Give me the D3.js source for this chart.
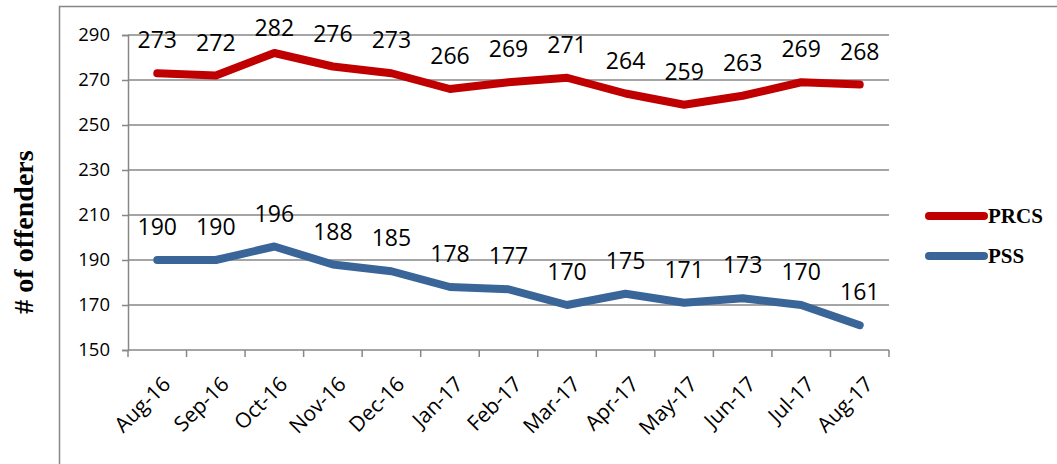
<!DOCTYPE html>
<html lang="en">
<head>
    <meta charset="UTF-8">
    <title>Offenders</title>
    <script src="https://cdn.jsdelivr.net/npm/d3@7"></script>
    <style>
        body { margin: 0; background: #fff; }
    </style>
</head>
<body>
<script>
    // months on the x axis
    const months = ["Aug-16", "Sep-16", "Oct-16", "Nov-16", "Dec-16", "Jan-17", "Feb-17",
        "Mar-17", "Apr-17", "May-17", "Jun-17", "Jul-17", "Aug-17"];
    const prcs = [273, 272, 282, 276, 273, 266, 269, 271, 264, 259, 263, 269, 268];
    const pss = [190, 190, 196, 188, 185, 178, 177, 170, 175, 171, 173, 170, 161];
    const yTicks = [150, 170, 190, 210, 230, 250, 270, 290];

    const series = [
        {name: "PRCS", values: prcs, color: "#C00000"},
        {name: "PSS", values: pss, color: "#3A6598"}
    ];

    const w = 1057, h = 464;
    const plotL = 128, plotR = 889, plotT = 35, plotB = 350;
    const gray = "#878787";

    const svg = d3.select("body").append("svg")
        .attr("width", w)
        .attr("height", h);

    // chart border (runs off the right/bottom edge)
    svg.append("rect")
        .attr("x", 59.5).attr("y", 6.5)
        .attr("width", 1100).attr("height", 500)
        .attr("fill", "none")
        .attr("stroke", gray)
        .attr("stroke-width", 1.5);

    const x = d3.scaleBand().domain(months).range([plotL, plotR]);
    const y = d3.scaleLinear().domain([150, 290]).range([plotB, plotT]);

    // gridlines + y axis
    const yAxis = svg.append("g")
        .attr("transform", "translate(" + plotL + ",0)")
        .call(d3.axisLeft(y).tickValues(yTicks).tickSize(6).tickPadding(12));
    yAxis.select(".domain").attr("stroke", gray).attr("stroke-width", 1.5);
    yAxis.selectAll(".tick line").attr("stroke", gray).attr("stroke-width", 1.5);
    yAxis.selectAll(".tick text")
        .attr("font-family", "'Open Sans', sans-serif")
        .attr("font-size", "18.5px")
        .attr("fill", "#000");

    svg.append("g").selectAll("line")
        .data(yTicks.filter(function (d) { return d !== 150; }))
        .enter().append("line")
        .attr("x1", plotL).attr("x2", plotR)
        .attr("y1", function (d) { return y(d); })
        .attr("y2", function (d) { return y(d); })
        .attr("stroke", gray)
        .attr("stroke-width", 1.5);

    // x axis with ticks at category boundaries
    const xAxis = svg.append("g")
        .attr("transform", "translate(0," + plotB + ")");
    xAxis.append("line")
        .attr("x1", plotL).attr("x2", plotR)
        .attr("stroke", gray).attr("stroke-width", 1.5);
    xAxis.selectAll(".tk")
        .data(months.concat(["end"]))
        .enter().append("line")
        .attr("class", "tk")
        .attr("x1", function (d, i) { return i < months.length ? x(d) : plotR; })
        .attr("x2", function (d, i) { return i < months.length ? x(d) : plotR; })
        .attr("y1", 0).attr("y2", 7)
        .attr("stroke", gray).attr("stroke-width", 1.5);
    xAxis.selectAll("text")
        .data(months)
        .enter().append("text")
        .text(function (d) { return d; })
        .attr("transform", function (d) {
            return "translate(" + (x(d) + x.bandwidth() / 2 + 4) + ",25) rotate(-45)";
        })
        .attr("text-anchor", "end")
        .attr("dy", "0.7em")
        .attr("font-family", "'Open Sans', sans-serif")
        .attr("font-size", "21px")
        .attr("fill", "#000");

    // lines
    const line = d3.line()
        .x(function (d, i) { return x(months[i]) + x.bandwidth() / 2; })
        .y(function (d) { return y(d); });

    series.forEach(function (s) {
        svg.append("path")
            .datum(s.values)
            .attr("d", line)
            .attr("fill", "none")
            .attr("stroke", s.color)
            .attr("stroke-width", 8)
            .attr("stroke-linecap", "round")
            .attr("stroke-linejoin", "round");

        svg.append("g").selectAll("text")
            .data(s.values)
            .enter().append("text")
            .text(function (d) { return d; })
            .attr("x", function (d, i) { return x(months[i]) + x.bandwidth() / 2; })
            .attr("y", function (d) { return Math.max(y(d) - 25, 36); })
            .attr("text-anchor", "middle")
            .attr("font-family", "'Open Sans', sans-serif")
            .attr("font-size", "23px")
            .attr("fill", "#000");
    });

    // legend
    const legend = svg.append("g").selectAll("g")
        .data(series)
        .enter().append("g")
        .attr("transform", function (d, i) { return "translate(0," + (216 + i * 40) + ")"; });
    legend.append("line")
        .attr("x1", 929).attr("x2", 984)
        .attr("stroke", function (d) { return d.color; })
        .attr("stroke-width", 8)
        .attr("stroke-linecap", "round");
    legend.append("text")
        .text(function (d) { return d.name; })
        .attr("x", 988)
        .attr("dy", "0.35em")
        .attr("font-family", "'Liberation Serif', 'Times New Roman', serif")
        .attr("font-weight", "bold")
        .attr("font-size", "21px")
        .attr("fill", "#000");

    // y axis title
    svg.append("text")
        .text("# of offenders")
        .attr("transform", "translate(33,232) rotate(-90)")
        .attr("text-anchor", "middle")
        .attr("font-family", "'Liberation Serif', 'Times New Roman', serif")
        .attr("font-weight", "bold")
        .attr("font-size", "28px")
        .attr("fill", "#000");
</script>
</body>
</html>
